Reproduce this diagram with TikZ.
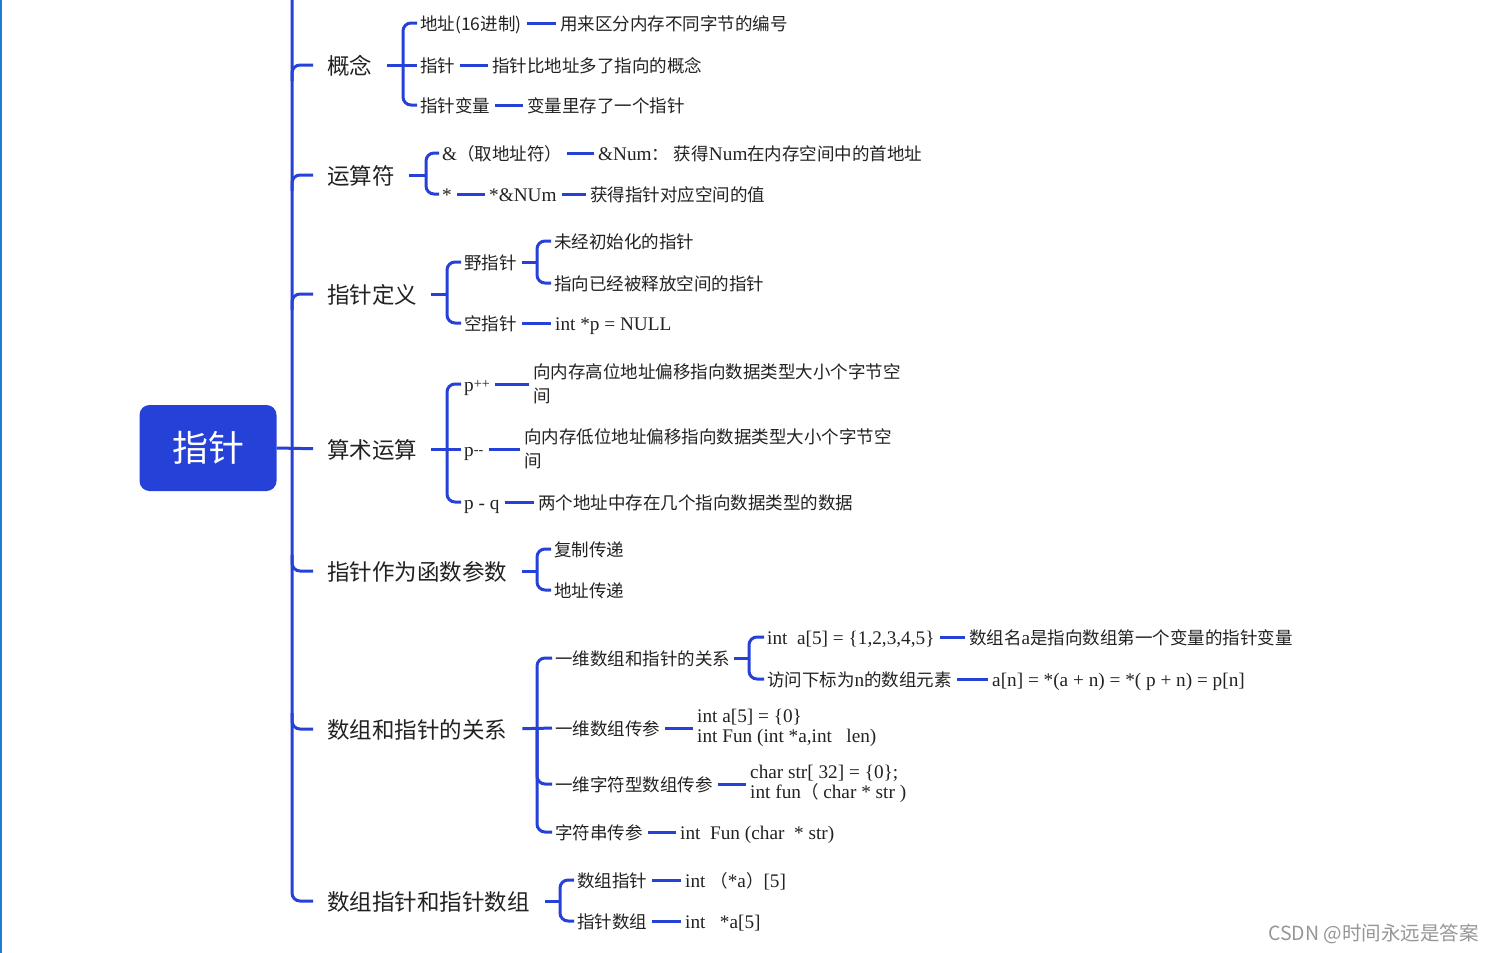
\documentclass[tikz,border=0pt]{standalone}
\usepackage{fontspec}
\setmainfont{Liberation Serif}[Scale=1.1]
\newfontfamily\zhfont{Noto Sans CJK SC}
\newcommand\zh[1]{{\zhfont #1}}
\usetikzlibrary{calc}
\definecolor{lineblue}{RGB}{37,65,216}
\definecolor{txt}{RGB}{34,34,34}
\definecolor{edgeblue}{RGB}{30,125,210}
\definecolor{wmgray}{RGB}{150,150,150}
\begin{document}
\begin{tikzpicture}[x=1pt,y=-1pt,
  conn/.style={draw=lineblue, line width=3pt},
  br/.style={conn, rounded corners=8pt},
  rootbox/.style={fill=lineblue, rounded corners=10pt, minimum width=137pt, minimum height=86pt,
    text=white, inner sep=0pt, font=\zhfont\fontsize{36}{36}\selectfont},
  lone/.style={anchor=west, inner sep=0pt, text=txt, font=\zhfont\fontsize{22.5}{26}\selectfont,
    text height=20pt, text depth=2pt},
  ltwo/.style={anchor=west, inner sep=0pt, text=txt, font=\fontsize{17.5}{20}\selectfont,
    text height=16pt, text depth=2pt},
  lzh/.style={ltwo, font=\zhfont\fontsize{17.5}{20}\selectfont},
  mzh/.style={anchor=west, inner sep=0pt, text=txt, align=left, font=\zhfont\fontsize{17.5}{24}\selectfont},
  mla/.style={anchor=west, inner sep=0pt, text=txt, align=left, font=\fontsize{17.5}{20}\selectfont},
  dashc/.style={conn, shorten <=5pt, shorten >=4pt},
]
\useasboundingbox (0,0) rectangle (1494,953);
\fill[white] (0,0) rectangle (1494,953);
\coordinate (edgetop) at (1,0);
\coordinate (edgebot) at (1,953);
\draw[edgeblue, line width=2pt] (edgetop) -- (edgebot);

% root and level 1
\node[rootbox] (root) at (208,448) {指针};
\node[lone] (L1a) at (327,65) {概念};
\node[lone] (L1b) at (327,175) {运算符};
\node[lone] (L1c) at (327,294) {指针定义};
\node[lone] (L1d) at (327,449) {算术运算};
\node[lone] (L1e) at (327,571) {指针作为函数参数};
\node[lone] (L1f) at (327,729) {数组和指针的关系};
\node[lone] (L1g) at (327,901) {数组指针和指针数组};

\coordinate (trunk) at (292,-4);
\draw[br, shorten >=14pt] (trunk) |- (L1g.west);
\foreach \n in {L1a,L1b,L1c}
  \draw[br, shorten >=14pt] ($(\n.west -| trunk)+(0,16)$) |- (\n.west);
\foreach \n in {L1e,L1f}
  \draw[br, shorten >=14pt] ($(\n.west -| trunk)+(0,-16)$) |- (\n.west);
\draw[conn, shorten >=14pt] (root.east) -- (L1d.west);

% 概念
\node[lzh] (a1) at (420,23) {地址(16进制)};
\node[lzh] (a1r) at (560,23) {用来区分内存不同字节的编号};
\node[lzh] (a2) at (420,65) {指针};
\node[lzh] (a2r) at (492,65) {指针比地址多了指向的概念};
\node[lzh] (a3) at (420,105) {指针变量};
\node[lzh] (a3r) at (527,105) {变量里存了一个指针};
\coordinate (ka) at (403,65);
\draw[conn, shorten <=15pt, shorten >=3pt] (L1a.east) -- (a2.west);
\draw[br, shorten <=3pt, shorten >=3pt] (a1.west) -| (ka) |- (a3.west);
\draw[dashc] (a1.east) -- (a1.east -| a1r.west);
\draw[dashc] (a2.east) -- (a2.east -| a2r.west);
\draw[dashc] (a3.east) -- (a3.east -| a3r.west);

% 运算符
\node[ltwo] (b1) at (442,153) {\&\zh{（取地址符）}};
\node[ltwo] (b1r) at (598,153) {\&Num\zh{：} \zh{获得}Num\zh{在内存空间中的首地址}};
\node[ltwo] (b2) at (442,194) {*};
\node[ltwo] (b2m) at (489,194) {*\&NUm};
\node[lzh] (b2r) at (590,194) {获得指针对应空间的值};
\coordinate (kb) at (426,175);
\draw[conn, shorten <=14pt] (L1b.east) -- (kb);
\draw[br, shorten <=3pt, shorten >=3pt] (b1.west) -| (kb) |- (b2.west);
\draw[dashc] (b1.east) -- (b1.east -| b1r.west);
\draw[dashc] (b2.east) -- (b2.east -| b2m.west);
\draw[dashc] (b2m.east) -- (b2m.east -| b2r.west);

% 指针定义
\node[lzh] (c1) at (464,262) {野指针};
\node[lzh] (c1x) at (554,241) {未经初始化的指针};
\node[lzh] (c1y) at (554,283) {指向已经被释放空间的指针};
\node[lzh] (c2) at (464,323) {空指针};
\node[ltwo] (c2r) at (555,323) {int *p = NULL};
\coordinate (kc) at (447,294);
\coordinate (kc1) at (537,262);
\draw[conn, shorten <=14pt] (L1c.east) -- (kc);
\draw[br, shorten <=3pt, shorten >=3pt] (c1.west) -| (kc) |- (c2.west);
\draw[conn, shorten <=5pt] (c1.east) -- (kc1);
\draw[br, shorten <=3pt, shorten >=3pt] (c1x.west) -| (kc1) |- (c1y.west);
\draw[dashc] (c2.east) -- (c2.east -| c2r.west);

% 算术运算
\node[ltwo] (d1) at (464,384) {p{\fontsize{13}{13}\selectfont\raisebox{3pt}{++}}};
\node[mzh] (d1r) at (533,384) {向内存高位地址偏移指向数据类型大小个字节空\\间};
\node[ltwo] (d2) at (464,449) {p{\fontsize{13}{13}\selectfont\raisebox{1.5pt}{-{}-}}};
\node[mzh] (d2r) at (524,449) {向内存低位地址偏移指向数据类型大小个字节空\\间};
\node[ltwo] (d3) at (464,502) {p - q};
\node[lzh] (d3r) at (538,502) {两个地址中存在几个指向数据类型的数据};
\coordinate (kd) at (447,449);
\draw[conn, shorten <=14pt, shorten >=3pt] (L1d.east) -- (d2.west);
\draw[br, shorten <=3pt, shorten >=3pt] (d1.west) -| (kd) |- (d3.west);
\draw[dashc] (d1.east) -- (d1.east -| d1r.west);
\draw[dashc] (d2.east) -- (d2.east -| d2r.west);
\draw[dashc] (d3.east) -- (d3.east -| d3r.west);

% 指针作为函数参数
\node[lzh] (e1) at (554,549) {复制传递};
\node[lzh] (e2) at (554,590) {地址传递};
\coordinate (ke) at (537,571);
\draw[conn, shorten <=15pt] (L1e.east) -- (ke);
\draw[br, shorten <=3pt, shorten >=3pt] (e1.west) -| (ke) |- (e2.west);

% 数组和指针的关系
\node[lzh] (f1) at (555,658) {一维数组和指针的关系};
\node[ltwo] (f1a) at (767,637) {int~~a[5] = \{1,2,3,4,5\}};
\node[ltwo] (f1ar) at (969,637) {\zh{数组名}a\zh{是指向数组第一个变量的指针变量}};
\node[ltwo] (f1b) at (767,679) {\zh{访问下标为}n\zh{的数组元素}};
\node[ltwo] (f1br) at (992,679) {a[n] = *(a + n) = *( p + n) = p[n]};
\coordinate (kf1) at (749,658);
\node[lzh] (f2) at (555,728) {一维数组传参};
\node[mla] (f2r) at (697,728) {int a[5] = \{0\}\\int Fun (int *a,int~~~len)};
\node[lzh] (f3) at (555,784) {一维字符型数组传参};
\node[mla] (f3r) at (750,784) {char str[ 32] = \{0\};\\int fun\zh{（} char * str )};
\node[lzh] (f4) at (555,832) {字符串传参};
\node[ltwo] (f4r) at (680,832) {int~~Fun (char~~* str)};
\coordinate (kf) at (537,729);
\draw[conn, shorten <=15pt, shorten >=3pt] (L1f.east) -- (f2.west);
\draw[br, shorten <=3pt, shorten >=3pt] (f1.west) -| (kf) |- (f4.west);
\draw[br, shorten <=3pt] (f3.west) -| (kf);
\draw[conn, shorten <=4pt] (f1.east) -- (kf1);
\draw[br, shorten <=3pt, shorten >=3pt] (f1a.west) -| (kf1) |- (f1b.west);
\draw[dashc] (f1a.east) -- (f1a.east -| f1ar.west);
\draw[dashc] (f1b.east) -- (f1b.east -| f1br.west);
\draw[dashc] (f2.east) -- (f2.east -| f2r.west);
\draw[dashc] (f3.east) -- (f3.east -| f3r.west);
\draw[dashc] (f4.east) -- (f4.east -| f4r.west);

% 数组指针和指针数组
\node[lzh] (g1) at (577,880) {数组指针};
\node[ltwo] (g1r) at (685,880) {int \zh{（}*a\zh{）}[5]};
\node[lzh] (g2) at (577,921) {指针数组};
\node[ltwo] (g2r) at (685,921) {int~~~*a[5]};
\coordinate (kg) at (560,901);
\draw[conn, shorten <=15pt] (L1g.east) -- (kg);
\draw[br, shorten <=3pt, shorten >=3pt] (g1.west) -| (kg) |- (g2.west);
\draw[dashc] (g1.east) -- (g1.east -| g1r.west);
\draw[dashc] (g2.east) -- (g2.east -| g2r.west);

% watermark
\node[anchor=east, inner sep=0pt, text=wmgray, font=\zhfont\fontsize{19.5}{19.5}\selectfont] (wm) at (1479,934) {CSDN @时间永远是答案};
\end{tikzpicture}
\end{document}
